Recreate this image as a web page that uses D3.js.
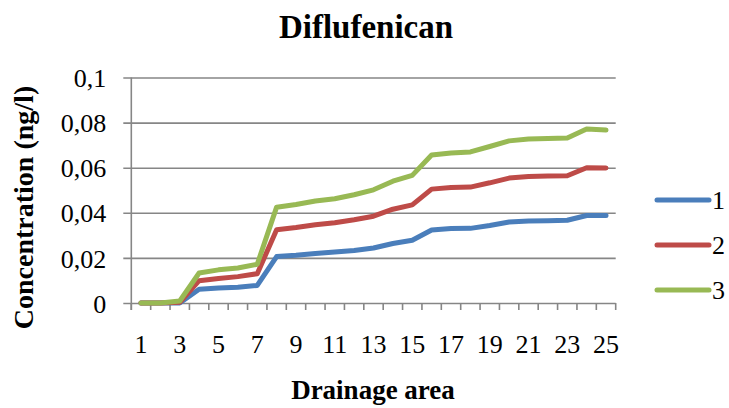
<!DOCTYPE html>
<html>
<head>
<meta charset="utf-8">
<script src="https://cdn.jsdelivr.net/npm/d3@7"></script>
<style>
  html, body { margin: 0; padding: 0; background: #fff; }
  svg { display: block; font-family: "Liberation Serif", "Times New Roman", serif; }
</style>
</head>
<body>
<svg id="chart" width="729" height="408"></svg>
<script>
// Drainage areas 1..25
const areas = d3.range(1, 26);
const tickLabels = [1, 3, 5, 7, 9, 11, 13, 15, 17, 19, 21, 23, 25];
const yTicks = [0, 0.02, 0.04, 0.06, 0.08, 0.1];

// Cumulative Diflufenican concentration (ng/l) per series
const series1 = [0, 0, 0, 0.0061, 0.0067, 0.0070, 0.0078, 0.0206, 0.0212, 0.0220, 0.0226, 0.0233, 0.0244,
                 0.0264, 0.0278, 0.0324, 0.0330, 0.0331, 0.0344, 0.0359, 0.0364, 0.0365, 0.0367, 0.0388, 0.0388];
const series2 = [0, 0, 0.0003, 0.0099, 0.0109, 0.0117, 0.0130, 0.0325, 0.0335, 0.0347, 0.0356, 0.0369, 0.0385,
                 0.0416, 0.0435, 0.0505, 0.0512, 0.0514, 0.0533, 0.0554, 0.0561, 0.0563, 0.0564, 0.0600, 0.0599];
const series3 = [0, 0, 0.0009, 0.0133, 0.0147, 0.0155, 0.0172, 0.0425, 0.0437, 0.0452, 0.0462, 0.0480, 0.0502,
                 0.0540, 0.0566, 0.0656, 0.0665, 0.0670, 0.0694, 0.0719, 0.0727, 0.0729, 0.0732, 0.0772, 0.0767];
const seriesNames = ["1", "2", "3"];
const seriesColors = ["#4a7ebb", "#be4b48", "#98b954"];
const allSeries = [series1, series2, series3];

const svg = d3.select("#chart");
const plot = { left: 131.3, right: 615.7, top: 77.5, bottom: 303 };

const x = d3.scaleBand().domain(areas).range([plot.left, plot.right]);
const y = d3.scaleLinear().domain([0, 0.1]).range([plot.bottom, plot.top]);
const fmt = v => (v === 0 ? "0" : String(+v.toFixed(2)).replace(".", ","));

// Horizontal gridlines with small outer ticks on the left
const yAxis = d3.axisLeft(y).tickValues(yTicks).tickSize(-(plot.right - plot.left)).tickFormat(fmt).tickPadding(0);
const gy = svg.append("g").attr("transform", `translate(${plot.left},0)`).call(yAxis);
gy.select(".domain").remove();
gy.selectAll(".tick line").attr("x1", -8).attr("stroke", "#868686").attr("stroke-width", 1.6);
gy.selectAll(".tick text")
  .attr("x", -25).attr("dy", "0.35em")
  .attr("font-size", 26).attr("fill", "#000")
  .attr("font-family", "Liberation Serif, serif");

// Left axis line
svg.append("line")
  .attr("x1", plot.left).attr("x2", plot.left)
  .attr("y1", plot.top).attr("y2", plot.bottom + 7)
  .attr("stroke", "#868686").attr("stroke-width", 1.6);

// Category tick marks at band boundaries
const boundaries = areas.map(a => x(a)).concat([x(areas[areas.length - 1]) + x.bandwidth()]);
svg.append("g").selectAll("line").data(boundaries).join("line")
  .attr("x1", d => d).attr("x2", d => d)
  .attr("y1", plot.bottom).attr("y2", plot.bottom + 7)
  .attr("stroke", "#868686").attr("stroke-width", 1.6);

// Category labels
svg.append("g").selectAll("text").data(tickLabels).join("text")
  .attr("x", d => x(d) + x.bandwidth() / 2)
  .attr("y", 353)
  .attr("text-anchor", "middle")
  .attr("font-size", 26)
  .text(d => d);

// Series lines
const line = d3.line()
  .x((d, i) => x(areas[i]) + x.bandwidth() / 2)
  .y(d => y(d));

svg.append("g").selectAll("path").data(allSeries).join("path")
  .attr("d", d => line(d))
  .attr("fill", "none")
  .attr("stroke", (d, i) => seriesColors[i])
  .attr("stroke-width", 5)
  .attr("stroke-linejoin", "round")
  .attr("stroke-linecap", "round");

// Legend
const legend = svg.append("g").selectAll("g").data(seriesNames).join("g")
  .attr("transform", (d, i) => `translate(0,${200 + i * 45})`);
legend.append("line")
  .attr("x1", 657).attr("x2", 709)
  .attr("stroke", (d, i) => seriesColors[i])
  .attr("stroke-width", 5)
  .attr("stroke-linecap", "round");
legend.append("text")
  .attr("x", 712).attr("dy", "0.35em")
  .attr("font-size", 26)
  .text(d => d);

// Titles
svg.append("text")
  .attr("x", 366).attr("y", 38)
  .attr("text-anchor", "middle")
  .attr("font-size", 33).attr("font-weight", "bold")
  .text("Diflufenican");

svg.append("text")
  .attr("x", 373).attr("y", 399)
  .attr("text-anchor", "middle")
  .attr("font-size", 27).attr("font-weight", "bold")
  .text("Drainage area");

svg.append("text")
  .attr("transform", "translate(33,207.5) rotate(-90)")
  .attr("text-anchor", "middle")
  .attr("font-size", 28).attr("font-weight", "bold")
  .text("Concentration (ng/l)");
</script>
</body>
</html>
